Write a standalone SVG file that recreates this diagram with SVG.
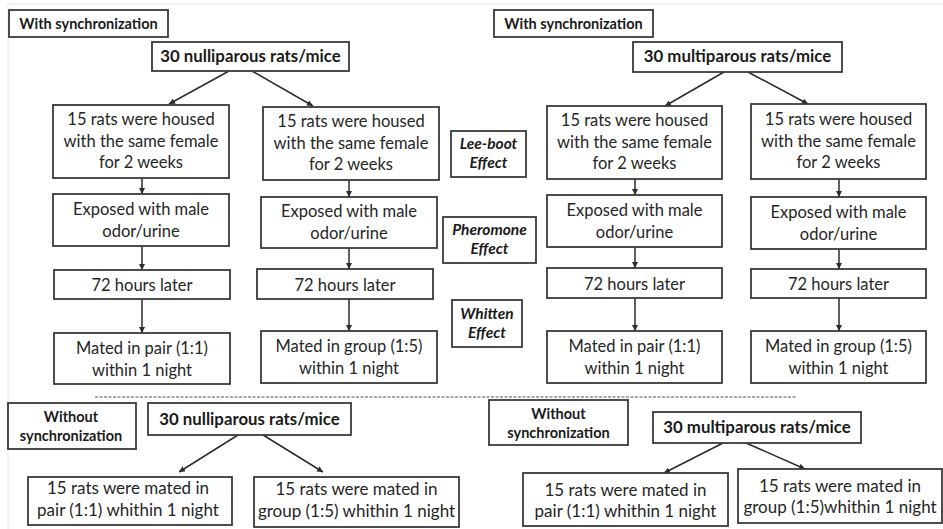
<svg xmlns="http://www.w3.org/2000/svg" width="943" height="529" viewBox="0 0 943 529">
<defs>
<marker id="ah" viewBox="0 0 10 10" refX="10" refY="5" markerWidth="6" markerHeight="6" markerUnits="userSpaceOnUse" orient="auto">
<path d="M0,0 L10,5 L0,10 z" fill="#2b2b2b"/>
</marker>
<style>
.b{fill:#fff;stroke:#3a3a3a;stroke-width:1.8}
.t{font-family:Lato,"Open Sans","Liberation Sans",sans-serif;font-size:16.5px;fill:#262626;text-anchor:middle}
.tb{font-family:Lato,"Open Sans","Liberation Sans",sans-serif;font-size:17px;fill:#262626;text-anchor:middle}
.h{font-family:Lato,"Open Sans","Liberation Sans",sans-serif;font-size:14.5px;font-weight:bold;fill:#1a1a1a;text-anchor:middle}
.hb{font-family:Lato,"Open Sans","Liberation Sans",sans-serif;font-size:16.8px;font-weight:bold;fill:#1a1a1a;text-anchor:middle}
.e{font-family:Lato,"Open Sans","Liberation Sans",sans-serif;font-size:15.5px;font-weight:bold;font-style:italic;fill:#1a1a1a;text-anchor:middle}
.w{font-family:Lato,"Open Sans","Liberation Sans",sans-serif;font-size:14.5px;font-weight:bold;fill:#1a1a1a;text-anchor:middle}
.c{stroke:#2b2b2b;stroke-width:1.5;fill:none;marker-end:url(#ah)}
</style>
</defs>
<rect width="943" height="529" fill="#fff"/>
<path d="M9,4 H943 M8,4 V529" stroke="#e6e6e6" stroke-width="1" fill="none"/>

<g id="connectors">
<line class="c" x1="229" y1="71" x2="169" y2="104"/>
<line class="c" x1="252" y1="71" x2="313" y2="106"/>
<line class="c" x1="142" y1="178" x2="142" y2="194"/>
<line class="c" x1="142" y1="246" x2="142" y2="270"/>
<line class="c" x1="142" y1="299" x2="142" y2="333"/>
<line class="c" x1="349" y1="180" x2="349" y2="197"/>
<line class="c" x1="349" y1="248" x2="349" y2="269"/>
<line class="c" x1="349" y1="299" x2="349" y2="331"/>
<line class="c" x1="724" y1="72" x2="665" y2="106"/>
<line class="c" x1="748" y1="72" x2="808" y2="104"/>
<line class="c" x1="635" y1="179" x2="635" y2="195"/>
<line class="c" x1="635" y1="247" x2="635" y2="268"/>
<line class="c" x1="635" y1="298" x2="635" y2="331"/>
<line class="c" x1="839" y1="179" x2="839" y2="197"/>
<line class="c" x1="839" y1="249" x2="839" y2="269"/>
<line class="c" x1="839" y1="298" x2="839" y2="331"/>
<line class="c" x1="238" y1="435" x2="179" y2="472"/>
<line class="c" x1="263" y1="435" x2="323" y2="472"/>
<line class="c" x1="723" y1="443" x2="664" y2="473"/>
<line class="c" x1="746" y1="443" x2="805" y2="469"/>
<line x1="95" y1="397" x2="797" y2="397" stroke="#555" stroke-width="1.2" stroke-dasharray="3 1.5"/>
</g>

<g id="sync1"><rect class="b" x="9" y="10" width="159" height="27"/><text class="h" x="88.5" y="29">With synchronization</text></g>
<g id="top1"><rect class="b" x="152" y="42" width="197" height="29"/><text class="hb" x="250.5" y="62">30 nulliparous rats/mice</text></g>
<g id="sync2"><rect class="b" x="494" y="10" width="159" height="27"/><text class="h" x="573.5" y="29">With synchronization</text></g>
<g id="top2"><rect class="b" x="633" y="42" width="209" height="30"/><text class="hb" x="737.5" y="62">30 multiparous rats/mice</text></g>

<g id="a1"><rect class="b" x="53" y="105" width="176" height="73"/><text class="t" x="141" y="125">15 rats were housed</text><text class="t" x="141" y="147">with the same female</text><text class="t" x="141" y="168">for 2 weeks</text></g>
<g id="b1"><rect class="b" x="263" y="107" width="176" height="73"/><text class="t" x="351" y="127">15 rats were housed</text><text class="t" x="351" y="149">with the same female</text><text class="t" x="351" y="170">for 2 weeks</text></g>
<g id="c1"><rect class="b" x="547" y="106" width="175" height="73"/><text class="t" x="634.5" y="126">15 rats were housed</text><text class="t" x="634.5" y="148">with the same female</text><text class="t" x="634.5" y="169">for 2 weeks</text></g>
<g id="d1"><rect class="b" x="751" y="104" width="175" height="75"/><text class="t" x="838.5" y="125">15 rats were housed</text><text class="t" x="838.5" y="147">with the same female</text><text class="t" x="838.5" y="168">for 2 weeks</text></g>

<g id="a2"><rect class="b" x="53" y="194" width="176" height="52"/><text class="t" x="141" y="215">Exposed with male</text><text class="t" x="141" y="237">odor/urine</text></g>
<g id="b2"><rect class="b" x="261" y="197" width="176" height="51"/><text class="t" x="349" y="217">Exposed with male</text><text class="t" x="349" y="239">odor/urine</text></g>
<g id="c2"><rect class="b" x="547" y="195" width="175" height="52"/><text class="t" x="634.5" y="216">Exposed with male</text><text class="t" x="634.5" y="238">odor/urine</text></g>
<g id="d2"><rect class="b" x="751" y="197" width="175" height="52"/><text class="t" x="838.5" y="218">Exposed with male</text><text class="t" x="838.5" y="240">odor/urine</text></g>

<g id="a3"><rect class="b" x="54" y="270" width="176" height="29"/><text class="t" x="142" y="291">72 hours later</text></g>
<g id="b3"><rect class="b" x="257" y="269" width="176" height="30"/><text class="t" x="345" y="291">72 hours later</text></g>
<g id="c3"><rect class="b" x="547" y="268" width="175" height="30"/><text class="t" x="634.5" y="290">72 hours later</text></g>
<g id="d3"><rect class="b" x="751" y="269" width="175" height="29"/><text class="t" x="838.5" y="290">72 hours later</text></g>

<g id="a4"><rect class="b" x="54" y="333" width="176" height="51"/><text class="t" x="142" y="354">Mated in pair (1:1)</text><text class="t" x="142" y="376">within 1 night</text></g>
<g id="b4"><rect class="b" x="261" y="331" width="176" height="52"/><text class="t" x="349" y="352">Mated in group (1:5)</text><text class="t" x="349" y="374">within 1 night</text></g>
<g id="c4"><rect class="b" x="547" y="331" width="175" height="52"/><text class="t" x="634.5" y="352">Mated in pair (1:1)</text><text class="t" x="634.5" y="374">within 1 night</text></g>
<g id="d4"><rect class="b" x="751" y="331" width="175" height="52"/><text class="t" x="838.5" y="352">Mated in group (1:5)</text><text class="t" x="838.5" y="374">within 1 night</text></g>

<g id="leeboot"><rect class="b" x="451" y="131" width="75" height="46"/><text class="e" x="488.5" y="149">Lee-boot</text><text class="e" x="488.5" y="168">Effect</text></g>
<g id="pheromone"><rect class="b" x="443" y="217" width="93" height="46"/><text class="e" x="489.5" y="235">Pheromone</text><text class="e" x="489.5" y="254">Effect</text></g>
<g id="whitten"><rect class="b" x="452" y="300" width="70" height="47"/><text class="e" x="487" y="319">Whitten</text><text class="e" x="487" y="338">Effect</text></g>

<g id="wsync1"><rect class="b" x="8" y="403" width="128" height="46"/><text class="w" x="71" y="422">Without</text><text class="w" x="71" y="441">synchronization</text></g>
<g id="top3"><rect class="b" x="148" y="403" width="203" height="32"/><text class="hb" x="249.5" y="425">30 nulliparous rats/mice</text></g>
<g id="e1"><rect class="b" x="28" y="477" width="204" height="48"/><text class="tb" x="128" y="494">15 rats were mated in</text><text class="tb" x="128" y="516">pair (1:1) whithin 1 night</text></g>
<g id="e2"><rect class="b" x="254" y="477" width="205" height="50"/><text class="tb" x="356.5" y="495">15 rats were mated in</text><text class="tb" x="356.5" y="517">group (1:5) whithin 1 night</text></g>

<g id="wsync2"><rect class="b" x="489" y="400" width="139" height="45"/><text class="w" x="558.5" y="419">Without</text><text class="w" x="558.5" y="438">synchronization</text></g>
<g id="top4"><rect class="b" x="653" y="412" width="208" height="31"/><text class="hb" x="757" y="433">30 multiparous rats/mice</text></g>
<g id="e3"><rect class="b" x="523" y="473" width="205" height="53"/><text class="tb" x="625.5" y="496">15 rats were mated in</text><text class="tb" x="625.5" y="517">pair (1:1) whithin 1 night</text></g>
<g id="e4"><rect class="b" x="738" y="469" width="204" height="54"/><text class="tb" x="840" y="492">15 rats were mated in</text><text class="tb" x="840" y="513">group (1:5)whithin 1 night</text></g>
</svg>
